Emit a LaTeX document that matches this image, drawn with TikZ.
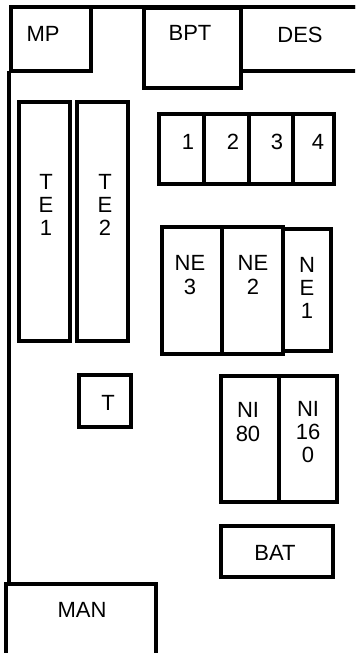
\documentclass[tikz,border=0pt]{standalone}
\usepackage{fontspec}
\setmainfont{Liberation Sans}

\begin{document}
\begin{tikzpicture}[x=0.75pt, y=-0.75pt, line width=3.4pt,
    lbl/.style={font=\fontsize{16.5}{17.5}\selectfont, align=center, inner sep=0pt}]
    \useasboundingbox (0,0) rectangle (355,653);
    \clip (0,0) rectangle (355,653);

    % Walls
    \draw (11,7) -- (360,7);
    \draw (9,71) -- (9,584);

    % Top row
    \draw (11,7) rectangle (91,71);
    \draw (144,8) rectangle (241,88);
    \draw (241,7) rectangle (362,71);
    \node[lbl] (MP) at (43,34) {MP};
    \node[lbl] (BPT) at (190,33) {BPT};
    \node[lbl] (DES) at (300,35) {DES};

    % Left column
    \draw (19,102) rectangle (70,341);
    \draw (77,102) rectangle (128,341);
    \node[lbl] (TE1) at (46,205) {T\\E\\1};
    \node[lbl] (TE2) at (105,205) {T\\E\\2};
    \draw (79,375) rectangle (131,427);
    \node[lbl] (T) at (108,403) {T};

    % Boxes 1 to 4
    \draw (159,114) rectangle (204,184);
    \draw (204,114) rectangle (249,184);
    \draw (249,114) rectangle (293,184);
    \draw (293,114) rectangle (334,184);
    \node[lbl] (B1) at (188,142) {1};
    \node[lbl] (B2) at (233,142) {2};
    \node[lbl] (B3) at (277,142) {3};
    \node[lbl] (B4) at (318,142) {4};

    % NE boxes
    \draw (162,227) rectangle (222,354);
    \draw (222,227) rectangle (283,354);
    \draw (283,229) rectangle (331,351);
    \node[lbl] (NE3) at (190,275) {NE\\3};
    \node[lbl] (NE2) at (253,275) {NE\\2};
    \node[lbl] (NE1) at (307,288) {N\\E\\1};

    % NI boxes
    \draw (221,376) rectangle (279,502);
    \draw (279,376) rectangle (337,502);
    \node[lbl] (NI80) at (248,422) {NI\\80};
    \node[lbl] (NI160) at (308,432) {NI\\16\\0};

    % Bottom
    \draw (221,526) rectangle (333,577);
    \node[lbl] (BAT) at (275,553) {BAT};
    \draw (6,584) rectangle (156,670);
    \node[lbl] (MAN) at (82,610) {MAN};
\end{tikzpicture}
\end{document}
